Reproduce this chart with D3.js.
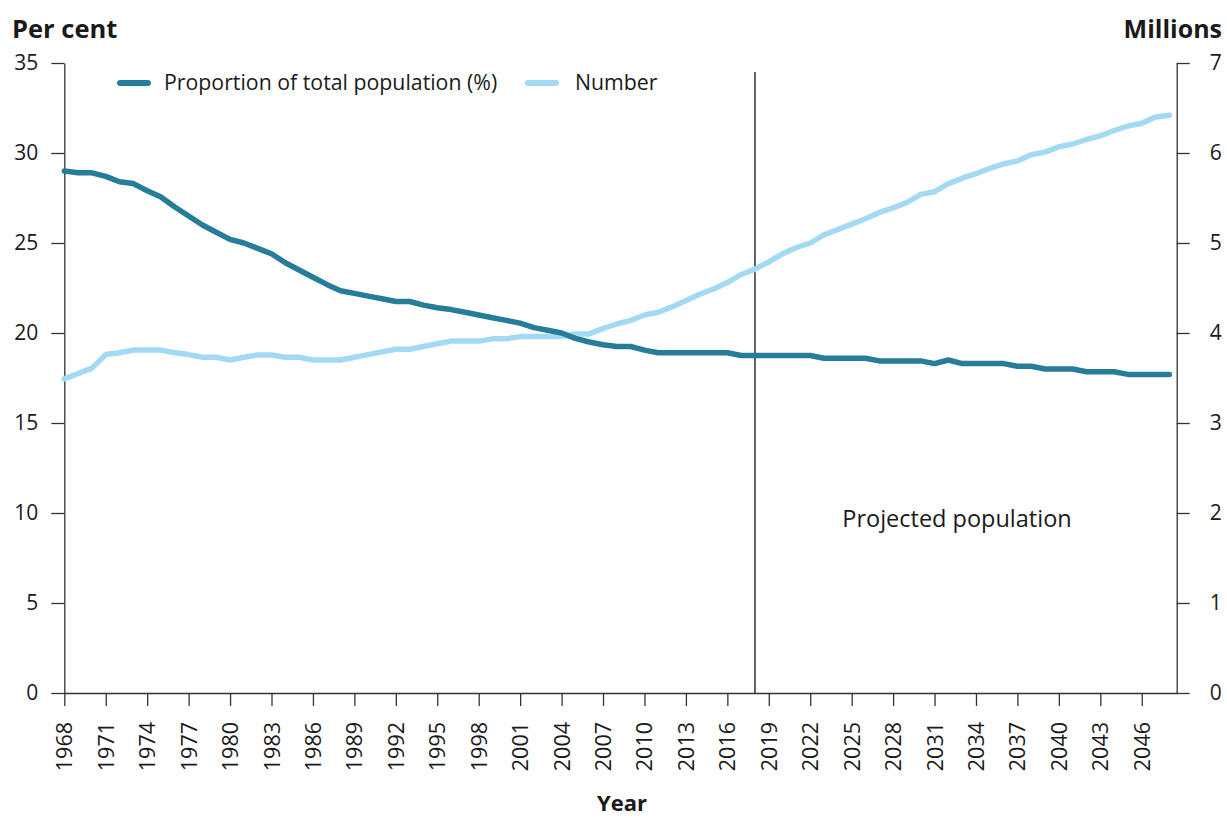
<!DOCTYPE html>
<html>
<head>
<meta charset="utf-8">
<script src="https://cdn.jsdelivr.net/npm/d3@7"></script>
<style>
  body { margin: 0; background: #fff; }
  svg text { font-family: "Open Sans", "Noto Sans", sans-serif; fill: #1a1a1a; }
  .axis path, .axis line { stroke: #333; stroke-width: 1.3px; }
  .axis text { font-size: 21px; fill: #1a1a1a; }
</style>
</head>
<body>
<div id="chart"></div>
<script>
// years 1968 - 2048 (2018 onwards is projected)
var years = [
  1968, 1969, 1970, 1971, 1972, 1973, 1974, 1975, 1976, 1977,
  1978, 1979, 1980, 1981, 1982, 1983, 1984, 1985, 1986, 1987,
  1988, 1989, 1990, 1991, 1992, 1993, 1994, 1995, 1996, 1997,
  1998, 1999, 2000, 2001, 2002, 2003, 2004, 2005, 2006, 2007,
  2008, 2009, 2010, 2011, 2012, 2013, 2014, 2015, 2016, 2017,
  2018, 2019, 2020, 2021, 2022, 2023, 2024, 2025, 2026, 2027,
  2028, 2029, 2030, 2031, 2032, 2033, 2034, 2035, 2036, 2037,
  2038, 2039, 2040, 2041, 2042, 2043, 2044, 2045, 2046, 2047,
  2048
];

// per cent of total population
var proportion = [
  29.0, 28.9, 28.9, 28.7, 28.4, 28.3, 27.9, 27.55, 27.0, 26.5,
  26.0, 25.6, 25.2, 25.0, 24.7, 24.4, 23.9, 23.5, 23.1, 22.7,
  22.35, 22.2, 22.05, 21.9, 21.75, 21.75, 21.55, 21.4, 21.3, 21.15,
  21.0, 20.85, 20.7, 20.55, 20.3, 20.15, 20.0, 19.7, 19.5, 19.35,
  19.25, 19.25, 19.05, 18.9, 18.9, 18.9, 18.9, 18.9, 18.9, 18.75,
  18.75, 18.75, 18.75, 18.75, 18.75, 18.6, 18.6, 18.6, 18.6, 18.45,
  18.45, 18.45, 18.45, 18.3, 18.5, 18.3, 18.3, 18.3, 18.3, 18.15,
  18.15, 18.0, 18.0, 18.0, 17.85, 17.85, 17.85, 17.7, 17.7, 17.7,
  17.7
];

// number, millions
var number = [
  3.49, 3.55, 3.61, 3.76, 3.78, 3.81, 3.81, 3.81, 3.78, 3.76,
  3.73, 3.73, 3.70, 3.73, 3.755, 3.755, 3.73, 3.73, 3.70, 3.70,
  3.70, 3.73, 3.76, 3.79, 3.82, 3.82, 3.85, 3.88, 3.91, 3.91,
  3.91, 3.935, 3.935, 3.96, 3.96, 3.96, 3.96, 3.99, 3.99, 4.05,
  4.10, 4.14, 4.20, 4.23, 4.29, 4.36, 4.43, 4.49, 4.56, 4.65,
  4.71, 4.79, 4.88, 4.95, 5.00, 5.09, 5.15, 5.21, 5.27, 5.34,
  5.39, 5.45, 5.54, 5.57, 5.66, 5.72, 5.77, 5.83, 5.88, 5.91,
  5.98, 6.01, 6.07, 6.10, 6.15, 6.19, 6.25, 6.30, 6.33, 6.40,
  6.42
];

var xTicks = [
  1968, 1971, 1974, 1977, 1980, 1983, 1986, 1989, 1992, 1995,
  1998, 2001, 2004, 2007, 2010, 2013, 2016, 2019, 2022, 2025,
  2028, 2031, 2034, 2037, 2040, 2043, 2046
];
var leftTicks = [0, 5, 10, 15, 20, 25, 30, 35];
var rightTicks = [0, 1, 2, 3, 4, 5, 6, 7];
var projectedFrom = 2018;

var seriesNames = ["Proportion of total population (%)", "Number"];
var color = ["#267d99", "#a3daf3"];

var w = 1227;
var h = 818;
var pl = 64.3, pr = 1176.7, pt = 63, pb = 693;

var svg = d3.select("#chart").append("svg").attr("width", w).attr("height", h);

var x = d3.scaleLinear().domain([1968, 2048.53]).range([pl, pr]);
var yL = d3.scaleLinear().domain([0, 35]).range([pb, pt]);
var yR = d3.scaleLinear().domain([0, 7]).range([pb, pt]);

// axes
svg.append("g")
  .attr("class", "axis")
  .attr("transform", "translate(" + pl + ",0)")
  .call(d3.axisLeft(yL).tickValues(leftTicks).tickFormat(d3.format("d"))
    .tickSize(13).tickSizeOuter(0).tickPadding(13));

svg.append("g")
  .attr("class", "axis")
  .attr("transform", "translate(" + pr + ",0)")
  .call(d3.axisRight(yR).tickValues(rightTicks).tickFormat(d3.format("d"))
    .tickSize(13).tickSizeOuter(0).tickPadding(20));

var xAxis = svg.append("g")
  .attr("class", "axis")
  .attr("transform", "translate(0," + pb + ")")
  .call(d3.axisBottom(x).tickValues(xTicks).tickFormat(d3.format("d")).tickSize(13).tickSizeOuter(0));

xAxis.selectAll("text")
  .attr("transform", "rotate(-90)")
  .attr("x", -29)
  .attr("y", 0)
  .attr("dy", "0.35em")
  .style("text-anchor", "end")
  .style("font-size", "21.5px");

svg.selectAll(".axis .domain").attr("fill", "none");

// projection divider
svg.append("line")
  .attr("x1", x(projectedFrom)).attr("x2", x(projectedFrom))
  .attr("y1", 72).attr("y2", pb)
  .attr("stroke", "#111").attr("stroke-width", 1.3);

svg.append("text")
  .attr("x", 957).attr("y", 527)
  .attr("text-anchor", "middle")
  .style("font-size", "23.5px")
  .text("Projected population");

// lines
var lineL = d3.line().x((d, i) => x(years[i])).y((d) => yL(d));
var lineR = d3.line().x((d, i) => x(years[i])).y((d) => yR(d));

svg.append("path")
  .datum(number)
  .attr("d", lineR)
  .attr("fill", "none")
  .attr("stroke", color[1])
  .attr("stroke-width", 5.5)
  .attr("stroke-linejoin", "round")
  .attr("stroke-linecap", "round");

svg.append("path")
  .datum(proportion)
  .attr("d", lineL)
  .attr("fill", "none")
  .attr("stroke", color[0])
  .attr("stroke-width", 5.5)
  .attr("stroke-linejoin", "round")
  .attr("stroke-linecap", "round");

// axis titles
svg.append("text")
  .attr("x", 12).attr("y", 38)
  .style("font-size", "25.5px").style("font-weight", "bold")
  .text("Per cent");

svg.append("text")
  .attr("x", 1222).attr("y", 38)
  .attr("text-anchor", "end")
  .style("font-size", "25px").style("font-weight", "bold")
  .text("Millions");

svg.append("text")
  .attr("x", 622).attr("y", 811)
  .attr("text-anchor", "middle")
  .style("font-size", "22px").style("font-weight", "bold")
  .text("Year");

// legend
var legendPos = [{ x1: 120, x2: 148, tx: 164 }, { x1: 528, x2: 556, tx: 575 }];

var legend = svg.selectAll(".legend")
  .data(seriesNames)
  .enter()
  .append("g")
  .attr("class", "legend");

legend.append("line")
  .attr("x1", (d, i) => legendPos[i].x1)
  .attr("x2", (d, i) => legendPos[i].x2)
  .attr("y1", 83).attr("y2", 83)
  .attr("stroke", (d, i) => color[i])
  .attr("stroke-width", 6)
  .attr("stroke-linecap", "round");

legend.append("text")
  .attr("x", (d, i) => legendPos[i].tx)
  .attr("y", 83)
  .attr("dy", "0.35em")
  .style("font-size", "21.3px")
  .text((d) => d);
</script>
</body>
</html>
